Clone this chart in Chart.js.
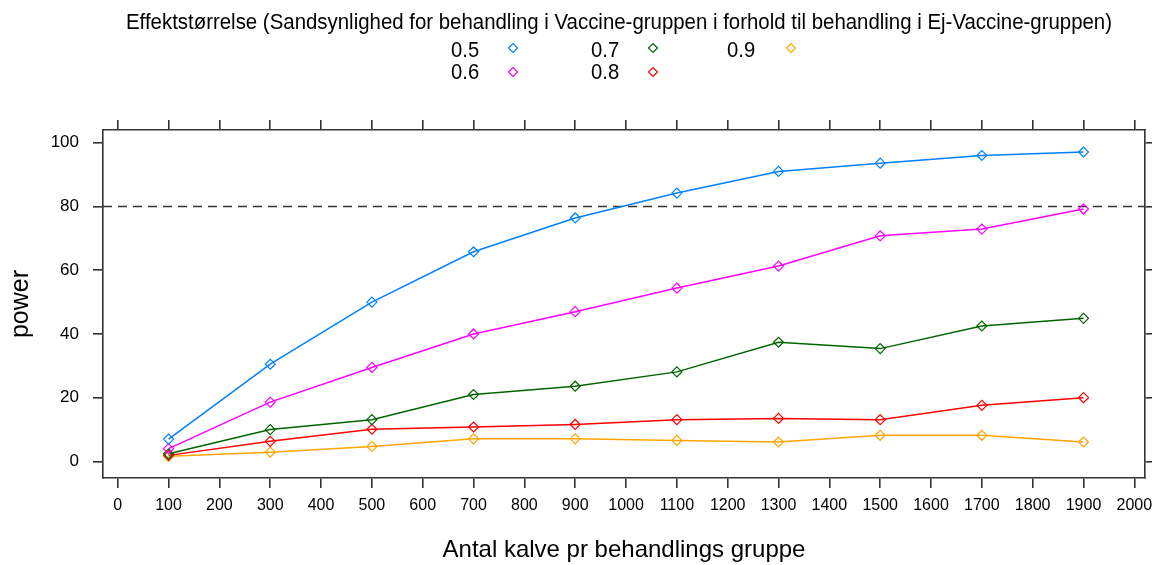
<!DOCTYPE html>
<html lang="en">

<head>
    <meta charset="UTF-8">
    <title>Power curves</title>
    <script src="https://cdn.jsdelivr.net/npm/chart.js"></script>
    <style>
        html, body {
            margin: 0;
            padding: 0;
            background-color: #ffffff;
        }

        .chart-container {
            width: 1152px;
            height: 565px;
        }
    </style>
</head>

<body>
    <div class="chart-container">
        <canvas id="powerChart" width="1152" height="565"></canvas>
    </div>

    <script>
        // sample sizes per group
        const groupSizes = [100, 300, 500, 700, 900, 1100, 1300, 1500, 1700, 1900];

        // effect sizes (legend labels)
        const effectLabels = ['0.5', '0.6', '0.7', '0.8', '0.9'];

        // power (%) per effect size
        const power05 = [7.0, 30.5, 50.0, 65.8, 76.4, 84.2, 91.0, 93.6, 96.0, 97.1];
        const power06 = [4.0, 18.6, 29.5, 40.0, 47.0, 54.4, 61.3, 70.8, 72.9, 79.2];
        const power07 = [2.4, 10.0, 13.1, 21.0, 23.6, 28.1, 37.4, 35.4, 42.5, 44.9];
        const power08 = [1.9, 6.3, 10.1, 10.8, 11.6, 13.1, 13.5, 13.1, 17.6, 20.0];
        const power09 = [1.6, 2.9, 4.7, 7.1, 7.1, 6.6, 6.1, 8.2, 8.2, 6.1];

        const xTickValues = [0, 100, 200, 300, 400, 500, 600, 700, 800, 900, 1000,
            1100, 1200, 1300, 1400, 1500, 1600, 1700, 1800, 1900, 2000];
        const yTickValues = [0, 20, 40, 60, 80, 100];
        const targetPower = 80;

        const legendTitle = 'Effektstørrelse (Sandsynlighed for behandling i Vaccine-gruppen i forhold til behandling i Ej-Vaccine-gruppen)';
        const xTitle = 'Antal kalve pr behandlings gruppe';
        const yTitle = 'power';

        const seriesColors = ['#0080ff', '#ff00ff', '#006400', '#ff0000', '#ffa500'];
        const allPower = [power05, power06, power07, power08, power09];

        const FONT = "'Liberation Sans', Arial, sans-serif";
        const AXIS_COLOR = '#333333';

        const datasets = allPower.map((values, i) => ({
            label: effectLabels[i],
            data: groupSizes.map((n, j) => ({ x: n, y: values[j] })),
            borderColor: seriesColors[i],
            backgroundColor: 'rgba(0,0,0,0)',
            borderWidth: 1.5,
            pointStyle: 'rectRot',
            pointRadius: 5,
            pointBorderWidth: 1.2,
            pointBackgroundColor: 'rgba(0,0,0,0)',
            pointBorderColor: seriesColors[i],
            tension: 0
        }));

        // draw text squeezed horizontally (the original uses a narrow face)
        function narrowText(ctx, text, x, y, squeeze) {
            ctx.save();
            ctx.translate(x, y);
            ctx.scale(squeeze, 1);
            ctx.fillText(text, 0, 0);
            ctx.restore();
        }

        // dashed reference line + title + legend
        const decorations = {
            id: 'decorations',
            beforeDatasetsDraw(chart) {
                const { ctx, chartArea } = chart;
                const y = chart.scales.y.getPixelForValue(targetPower);
                ctx.save();
                ctx.strokeStyle = AXIS_COLOR;
                ctx.lineWidth = 1.6;
                ctx.setLineDash([9, 6]);
                ctx.beginPath();
                ctx.moveTo(chartArea.left, y);
                ctx.lineTo(chartArea.right, y);
                ctx.stroke();
                ctx.restore();
            },
            afterDraw(chart) {
                const ctx = chart.ctx;
                ctx.save();
                ctx.fillStyle = '#000000';
                ctx.textBaseline = 'middle';
                ctx.textAlign = 'center';
                ctx.font = '22px ' + FONT;
                const titleW = ctx.measureText(legendTitle).width;
                narrowText(ctx, legendTitle, 619, 23, 986 / titleW);

                ctx.textAlign = 'left';
                ctx.font = '22px ' + FONT;
                const colText = [451, 591, 727];
                const colMark = [513, 653, 791];
                const rowText = [51, 73];
                const rowMark = [48, 72];
                effectLabels.forEach((lab, i) => {
                    const col = Math.floor(i / 2);
                    const row = i % 2;
                    ctx.fillStyle = '#000000';
                    narrowText(ctx, lab, colText[col], rowText[row], 0.92);
                    ctx.strokeStyle = seriesColors[i];
                    ctx.fillStyle = 'rgba(0,0,0,0)';
                    ctx.lineWidth = 1.2;
                    Chart.helpers.drawPoint(ctx, { pointStyle: 'rectRot', radius: 4.5, borderWidth: 1.2 },
                        colMark[col], rowMark[row]);
                });
                ctx.restore();
            }
        };

        const tickLabelsX = (axis) => { axis.ticks = xTickValues.map(v => ({ value: v })); };
        const tickLabelsY = (axis) => { axis.ticks = yTickValues.map(v => ({ value: v })); };
        const plainNumber = (v) => String(v);
        const fixHeight = (h) => (s) => { s.height = h; s.paddingLeft = 0; s.paddingRight = 0; };
        const fixWidth = (w) => (s) => { s.width = w; s.paddingTop = 0; s.paddingBottom = 0; };

        new Chart(document.getElementById('powerChart'), {
            type: 'line',
            data: { datasets: datasets },
            options: {
                responsive: false,
                animation: false,
                events: [],
                layout: { padding: 0 },
                plugins: {
                    legend: { display: false },
                    title: { display: false },
                    tooltip: { enabled: false }
                },
                scales: {
                    x: {
                        type: 'linear',
                        position: 'bottom',
                        min: -29,
                        max: 2021,
                        afterBuildTicks: tickLabelsX,
                        afterFit: fixHeight(87),
                        ticks: {
                            autoSkip: false,
                            maxRotation: 0,
                            padding: 8,
                            color: '#000000',
                            font: { family: FONT, size: 16 },
                            callback: plainNumber
                        },
                        grid: { drawOnChartArea: false, tickLength: 10, tickColor: AXIS_COLOR, lineWidth: 1.6 },
                        border: { color: AXIS_COLOR, width: 1.6 },
                        title: {
                            display: true,
                            text: xTitle,
                            color: '#000000',
                            font: { family: FONT, size: 24 },
                            padding: { top: 0, bottom: 0 }
                        }
                    },
                    xTop: {
                        type: 'linear',
                        position: 'top',
                        min: -29,
                        max: 2021,
                        afterBuildTicks: tickLabelsX,
                        afterFit: fixHeight(130),
                        ticks: { display: false },
                        grid: { drawOnChartArea: false, tickLength: 10, tickColor: AXIS_COLOR, lineWidth: 1.6 },
                        border: { color: AXIS_COLOR, width: 1.6 }
                    },
                    y: {
                        type: 'linear',
                        position: 'left',
                        min: -5.2,
                        max: 104,
                        afterBuildTicks: tickLabelsY,
                        afterFit: fixWidth(103),
                        ticks: {
                            padding: 14,
                            color: '#000000',
                            font: { family: FONT, size: 17 },
                            callback: plainNumber
                        },
                        grid: { drawOnChartArea: false, tickLength: 10, tickColor: AXIS_COLOR, lineWidth: 1.6 },
                        border: { color: AXIS_COLOR, width: 1.6 },
                        title: {
                            display: true,
                            text: yTitle,
                            color: '#000000',
                            font: { family: FONT, size: 25 },
                            padding: { top: 6, bottom: 0 }
                        }
                    },
                    yRight: {
                        type: 'linear',
                        position: 'right',
                        min: -5.2,
                        max: 104,
                        afterBuildTicks: tickLabelsY,
                        afterFit: fixWidth(7),
                        ticks: { display: false },
                        grid: { drawOnChartArea: false, tickLength: 8, tickColor: AXIS_COLOR, lineWidth: 1.6 },
                        border: { color: AXIS_COLOR, width: 1.6 }
                    }
                }
            },
            plugins: [decorations]
        });
    </script>
</body>

</html>
